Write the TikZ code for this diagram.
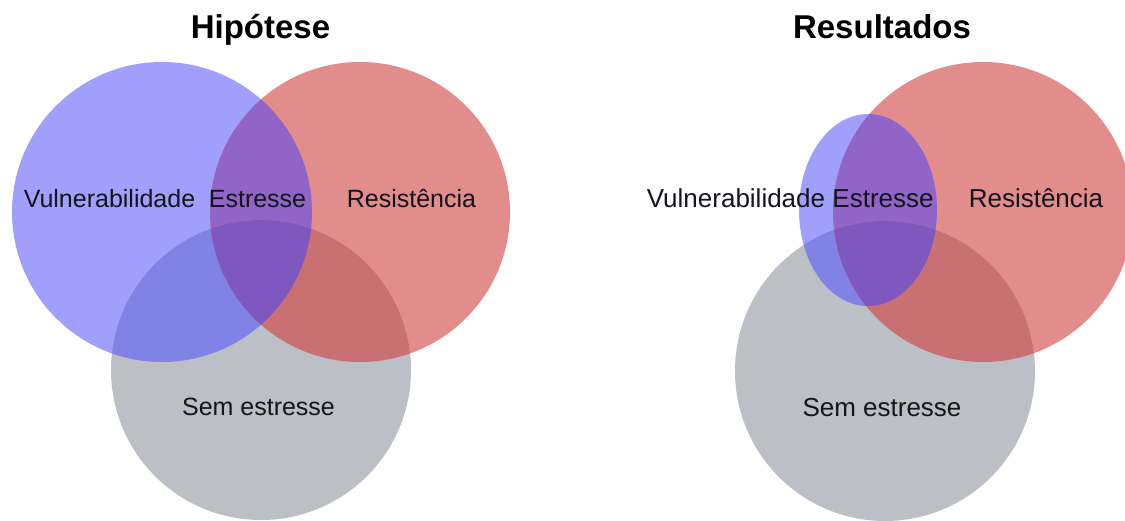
\documentclass[tikz,border=0pt]{standalone}
\usepackage{fontspec}
\setmainfont{Liberation Sans}
\definecolor{cblue}{RGB}{160,160,252}
\definecolor{cred}{RGB}{226,140,140}
\definecolor{cgray}{RGB}{189,191,199}
\definecolor{cBR}{RGB}{145,100,200}
\definecolor{cBG}{RGB}{128,130,230}
\definecolor{cRG}{RGB}{200,112,114}
\definecolor{cBRG}{RGB}{126,88,190}
\definecolor{ctext}{RGB}{20,20,28}
\def\pathLB{(162,212) circle (150pt)}
\def\pathLR{(360,212) circle (150pt)}
\def\pathLG{(261,370) circle (150pt)}
\def\pathRB{(868,210) ellipse [x radius=69pt, y radius=96pt]}
\def\pathRR{(983,212) circle (150pt)}
\def\pathRG{(885,371) circle (150pt)}
\begin{document}
\begin{tikzpicture}[x=1pt,y=-1pt,
  lbl/.style={font=\fontsize{25}{30}\selectfont, text=ctext, anchor=base, inner sep=0pt},
  lblr/.style={lbl, font=\fontsize{26}{31}\selectfont},
  ttl/.style={font=\fontsize{33}{40}\selectfont\bfseries, text=black, anchor=base, inner sep=0pt}]
\useasboundingbox (0,0) rectangle (1125,520);
\clip (0,0) rectangle (1125,520);
\fill[white] (0,0) rectangle (1125,520);
% ---------- left diagram: Hipotese ----------
\fill[cblue] \pathLB;
\fill[cred] \pathLR;
\fill[cgray] \pathLG;
\begin{scope}
  \clip \pathLB;
  \fill[cBR] \pathLR;
  \fill[cBG] \pathLG;
\end{scope}
\begin{scope}
  \clip \pathLR;
  \fill[cRG] \pathLG;
\end{scope}
\begin{scope}
  \clip \pathLB;
  \clip \pathLR;
  \fill[cBRG] \pathLG;
\end{scope}
% ---------- right diagram: Resultados ----------
\fill[cred] \pathRR;
\fill[cgray] \pathRG;
\fill[cblue] \pathRB;
\begin{scope}
  \clip \pathRB;
  \fill[cBR] \pathRR;
  \fill[cBG] \pathRG;
\end{scope}
\begin{scope}
  \clip \pathRR;
  \fill[cRG] \pathRG;
\end{scope}
\begin{scope}
  \clip \pathRB;
  \clip \pathRR;
  \fill[cBRG] \pathRG;
\end{scope}
% ---------- texts ----------
\node[ttl] (titleL) at (260.5,38) {Hipótese};
\node[ttl] (titleR) at (882,38) {Resultados};
\node[lbl] (vulnL) at (109.5,207) {Vulnerabilidade};
\node[lbl] (estrL) at (257.5,207) {Estresse};
\node[lbl] (resL) at (411.5,207) {Resistência};
\node[lbl] (semL) at (258.5,415) {Sem estresse};
\node[lblr] (vulnR) at (736,207) {Vulnerabilidade};
\node[lblr] (estrR) at (883,207) {Estresse};
\node[lblr] (resR) at (1036,207) {Resistência};
\node[lblr] (semR) at (882,416) {Sem estresse};
\end{tikzpicture}
\end{document}
